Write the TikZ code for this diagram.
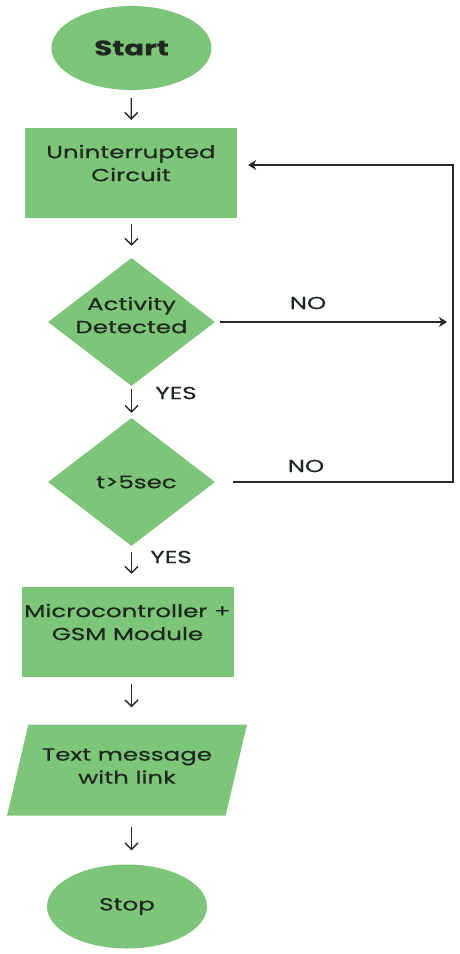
\documentclass[tikz,border=0pt]{standalone}
\usepackage{fontspec}
\setmainfont{Poppins}[FakeStretch=1.4, FakeBold=0.6]
\usetikzlibrary{shapes.geometric,arrows.meta,calc}
\definecolor{fgreen}{RGB}{125,197,120}
\definecolor{ink}{RGB}{30,40,30}
\definecolor{linec}{RGB}{40,40,40}
\begin{document}
\begin{tikzpicture}[x=1pt,y=-1pt,
  box/.style={fill=fgreen, draw=none, text=ink, font=\fontsize{17.5}{23}\selectfont, align=center, inner sep=0pt},
  term/.style={box, ellipse, minimum width=160pt, minimum height=84pt},
  proc/.style={box, rectangle, minimum width=212pt, minimum height=90pt, text depth=20pt},
  dec/.style={box, diamond, minimum width=167pt, minimum height=128pt, aspect=1.3, inner xsep=-25pt, inner ysep=-15pt},
  io/.style={box, trapezium, trapezium left angle=67, trapezium right angle=113, trapezium stretches=true, minimum width=240pt, minimum height=91pt},
  arr/.style={draw=linec, line width=1.4pt, -{Straight Barb[length=6.5pt,width=13pt]}},
  harr/.style={draw=linec, line width=1.6pt, -{Stealth[length=8pt,width=10pt,inset=2.5pt]}},
  lbl/.style={text=ink, font=\fontsize{17.5}{20}\selectfont, inner sep=0pt}]
\fill[white] (0,0) rectangle (459,954);
\useasboundingbox (0,0) rectangle (459,954);

\node[term, font=\fontsize{21}{24}\selectfont\bfseries] (start) at (131.5,48) {Start};
\node[proc] (circ) at (131,173) {Uninterrupted\\Circuit};
\node[dec, text depth=14pt] (act) at (131.5,322) {Activity\\Detected};
\node[dec] (tim) at (131.5,482) {\hspace*{10pt}t>5sec};
\node[proc] (mcu) at (127.5,632) {Microcontroller +\\GSM Module};
\node[io, text depth=8pt] (msg) at (127,770) {Text message\\with link};
\node[term] (stop) at (127,906.5) {Stop};

\coordinate (fbtop) at (453,165);
\coordinate (fbbot) at (453,482);

\draw[arr, shorten <=8pt, shorten >=8pt] (start) -- (circ);
\draw[arr, shorten <=6pt, shorten >=12pt] (circ.south -| act) -- (act);
\draw[arr, shorten <=3pt, shorten >=5pt] (act) -- (tim);
\draw[arr, shorten <=6pt, shorten >=13pt] (tim) -- (mcu.north -| tim);
\draw[arr, shorten <=7pt, shorten >=17pt] (mcu.south -| tim) -- (msg.north -| tim);
\draw[arr, shorten <=11pt, shorten >=14pt] (msg.south -| tim) -- (stop.north -| tim);

\draw[harr, shorten <=5pt, shorten >=6pt] (act.east) -- (act.east -| fbtop);
\draw[harr, shorten <=18pt, shorten >=11pt] (tim.east) -- (fbbot) -- (fbtop) -- (circ.east |- fbtop);

\node[lbl] (no1) at (308,303) {NO};
\node[lbl] (no2) at (306,466) {NO};
\node[lbl] (yes1) at (176,393) {YES};
\node[lbl] (yes2) at (171,557) {YES};
\end{tikzpicture}
\end{document}
